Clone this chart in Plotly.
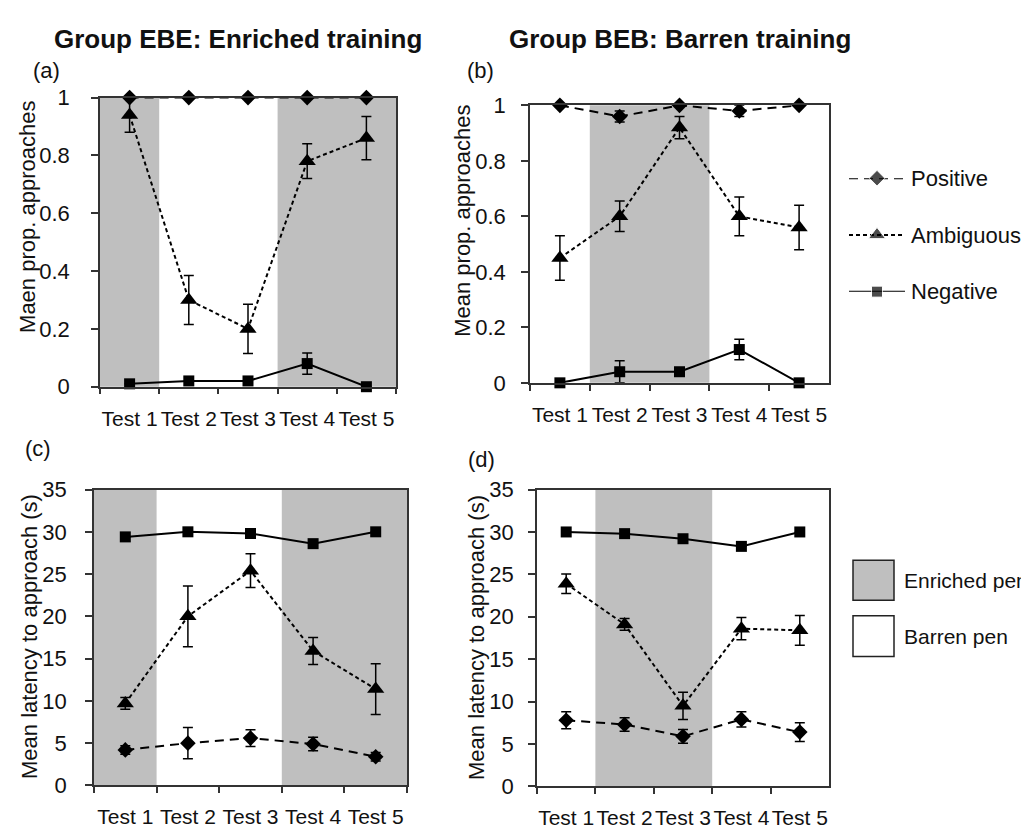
import plotly.graph_objects as go

# ---------------- data ----------------
tests = ["Test 1", "Test 2", "Test 3", "Test 4", "Test 5"]
ebe_pen = ["Enriched", "Barren", "Barren", "Enriched", "Enriched"]
beb_pen = ["Barren", "Enriched", "Enriched", "Barren", "Barren"]

# (a) proportion of approaches, group EBE
a_pos = [1.0, 1.0, 1.0, 1.0, 1.0]
a_pos_err = [0, 0, 0, 0, 0]
a_amb = [0.94, 0.30, 0.20, 0.78, 0.86]
a_amb_err = [0.06, 0.085, 0.085, 0.06, 0.075]
a_neg = [0.01, 0.02, 0.02, 0.08, 0.0]
a_neg_err = [0, 0, 0, 0.037, 0]

# (b) proportion of approaches, group BEB
b_pos = [1.0, 0.96, 1.0, 0.98, 1.0]
b_pos_err = [0, 0.02, 0, 0.02, 0]
b_amb = [0.45, 0.60, 0.92, 0.60, 0.56]
b_amb_err = [0.08, 0.055, 0.04, 0.07, 0.08]
b_neg = [0.0, 0.04, 0.04, 0.12, 0.0]
b_neg_err = [0, 0.04, 0.012, 0.037, 0]

# (c) latency to approach, group EBE
c_pos = [4.2, 5.0, 5.6, 4.9, 3.4]
c_pos_err = [0.5, 1.85, 1.0, 0.8, 0.5]
c_amb = [9.7, 20.0, 25.4, 15.9, 11.4]
c_amb_err = [0.7, 3.6, 2.0, 1.6, 3.0]
c_neg = [29.4, 30.0, 29.8, 28.6, 30.0]
c_neg_err = [0, 0, 0, 0, 0]

# (d) latency to approach, group BEB
d_pos = [7.8, 7.3, 5.9, 7.9, 6.4]
d_pos_err = [1.0, 0.8, 0.8, 0.9, 1.1]
d_amb = [23.9, 19.1, 9.5, 18.6, 18.4]
d_amb_err = [1.15, 0.7, 1.6, 1.3, 1.75]
d_neg = [30.0, 29.8, 29.2, 28.3, 30.0]
d_neg_err = [0, 0, 0, 0, 0]

series_names = ["Positive", "Ambiguous", "Negative"]
pen_names = ["Enriched pen", "Barren pen"]

# ---------------- styling ----------------
W, H = 1029, 837
FONT = "Liberation Sans, Arial, sans-serif"
TXT = "#111111"
AX = "#333333"
GRAY = "#bfbfbf"

STY = {
    "Positive": dict(dash="9px,6px", symbol="diamond", size=12),
    "Ambiguous": dict(dash="4px,3px", symbol="triangle-up", size=15),
    "Negative": dict(dash="solid", symbol="square", size=11),
}


def px(x):
    return x / W


def py(y):
    return 1 - y / H


def enriched_runs(pen):
    runs, start = [], None
    for k, p in enumerate(pen + ["Barren"]):
        if p == "Enriched" and start is None:
            start = k
        elif p != "Enriched" and start is not None:
            runs.append((start, k - 1))
            start = None
    return runs


fig = go.Figure()

panels = [
    # axis id, data, pen, yrange, dtick, domains(px), ytick standoff
    ("", [(a_pos, a_pos_err), (a_amb, a_amb_err), (a_neg, a_neg_err)], ebe_pen,
     [0, 1], 0.2, (92, 388, 80, 378), 17),
    ("2", [(b_pos, b_pos_err), (b_amb, b_amb_err), (b_neg, b_neg_err)], beb_pen,
     [0, 1], 0.2, (522, 821, 88, 374), 11),
    ("3", [(c_pos, c_pos_err), (c_amb, c_amb_err), (c_neg, c_neg_err)], ebe_pen,
     [0, 35], 5, (86, 399, 484, 789), 14),
    ("4", [(d_pos, d_pos_err), (d_amb, d_amb_err), (d_neg, d_neg_err)], beb_pen,
     [0, 35], 5, (529, 821, 484, 790), 10),
]

shapes = []
for aid, data, pen, yr, dt, (x0, x1, y0, y1), ystand in panels:
    xa = "x" + aid
    ya = "y" + aid
    for name, (vals, errs) in zip(series_names, data):
        s = STY[name]
        fig.add_trace(go.Scatter(
            x=tests, y=vals, xaxis=xa, yaxis=ya, mode="lines+markers",
            name=name, showlegend=False, cliponaxis=False,
            line=dict(color="black", width=2, dash=s["dash"]),
            marker=dict(symbol=s["symbol"], size=s["size"], color="black"),
            error_y=dict(type="data", array=errs, visible=True,
                         color="black", thickness=1.5, width=5),
        ))
    for k0, k1 in enriched_runs(pen):
        shapes.append(dict(type="rect", xref=xa, yref=ya + " domain",
                           x0=k0 - 0.5, x1=k1 + 0.5, y0=0, y1=1,
                           fillcolor=GRAY, line=dict(width=0), layer="below"))
    xkey = "xaxis" + aid
    ykey = "yaxis" + aid
    fig.layout[xkey] = dict(
        domain=[px(x0), px(x1)], anchor=ya, type="category",
        range=[-0.5, 4.5], tickson="boundaries", ticks="outside", ticklen=6,
        tickwidth=1.5, tickcolor=AX, showline=True, linecolor=AX, linewidth=1.5,
        mirror=True, showgrid=False, zeroline=False, tickangle=0,
        tickfont=dict(family=FONT, size=21, color=TXT), ticklabelstandoff=12,
    )
    fig.layout[ykey] = dict(
        domain=[py(y1), py(y0)], anchor=xa, range=yr, dtick=dt, tick0=0,
        ticks="outside", ticklen=7, tickwidth=1.5, tickcolor=AX,
        showline=True, linecolor=AX, linewidth=1.5, mirror=True,
        showgrid=False, zeroline=False,
        tickfont=dict(family=FONT, size=22, color=TXT), ticklabelstandoff=ystand,
    )

# ---------------- series legend (sample lines in their own hidden axis) ----------------
leg_y = [2, 1, 0]
for name, yy in zip(series_names, leg_y):
    s = STY[name]
    fig.add_trace(go.Scatter(
        x=[0, 0.5, 1], y=[yy, yy, yy], xaxis="x5", yaxis="y5",
        mode="lines+markers", showlegend=False, cliponaxis=False, hoverinfo="skip",
        line=dict(color="black", width=2, dash=s["dash"]),
        marker=dict(symbol=s["symbol"], size=[0, s["size"], 0], color="black"),
    ))
fig.layout["xaxis5"] = dict(domain=[px(841), px(897)], range=[0, 1], visible=False,
                            anchor="y5", fixedrange=True)
fig.layout["yaxis5"] = dict(domain=[py(280), py(163)], range=[0, 2], visible=False,
                            anchor="x5", fixedrange=True)

annotations = []
for name, yc in zip(series_names, [163, 222, 280]):
    annotations.append(dict(text=name, x=px(902), y=py(yc), xref="paper", yref="paper",
                            xanchor="left", yanchor="middle", showarrow=False,
                            borderpad=0, font=dict(family=FONT, size=22, color=TXT)))

# ---------------- pen legend ----------------
for pname, fill, (t, b) in zip(pen_names, [GRAY, "white"], [(557, 598), (614, 656)]):
    shapes.append(dict(type="rect", xref="paper", yref="paper",
                       x0=px(845), x1=px(886), y0=py(b), y1=py(t),
                       fillcolor=fill, line=dict(color="#222222", width=1.5)))
    annotations.append(dict(text=pname, x=px(895), y=py((t + b) / 2), xref="paper",
                            yref="paper", xanchor="left", yanchor="middle",
                            borderpad=0, showarrow=False,
                            font=dict(family=FONT, size=21, color=TXT)))

# ---------------- titles, panel labels, axis titles ----------------
for txt, xc in [("Group EBE: Enriched training", 230), ("Group BEB: Barren training", 672)]:
    annotations.append(dict(text="<b>" + txt + "</b>", x=px(xc), y=py(20), xref="paper",
                            yref="paper", xanchor="center", yanchor="middle",
                            showarrow=False, font=dict(family=FONT, size=26, color=TXT)))

for lab, xl, yc in [("(a)", 23, 52), ("(b)", 457, 52), ("(c)", 15, 442), ("(d)", 458, 453)]:
    annotations.append(dict(text=lab, x=px(xl), y=py(yc), xref="paper", yref="paper",
                            xanchor="left", yanchor="middle", showarrow=False,
                            font=dict(family=FONT, size=22, color=TXT)))

for txt, xc, yc in [("Maen prop. approaches", 20, 203),
                    ("Mean prop. approaches", 455, 207),
                    ("Mean latency to approach (s)", 21, 636),
                    ("Mean latency to approach (s)", 469, 637)]:
    annotations.append(dict(text=txt, x=px(xc), y=py(yc), xref="paper", yref="paper",
                            xanchor="center", yanchor="middle", textangle=-90,
                            showarrow=False, font=dict(family=FONT, size=22, color=TXT)))

fig.update_layout(
    width=W, height=H, autosize=False,
    margin=dict(l=0, r=0, t=0, b=0, pad=0),
    paper_bgcolor="white", plot_bgcolor="white",
    showlegend=False, shapes=shapes, annotations=annotations,
    font=dict(family=FONT, color=TXT),
)

fig.write_html("out.html")
